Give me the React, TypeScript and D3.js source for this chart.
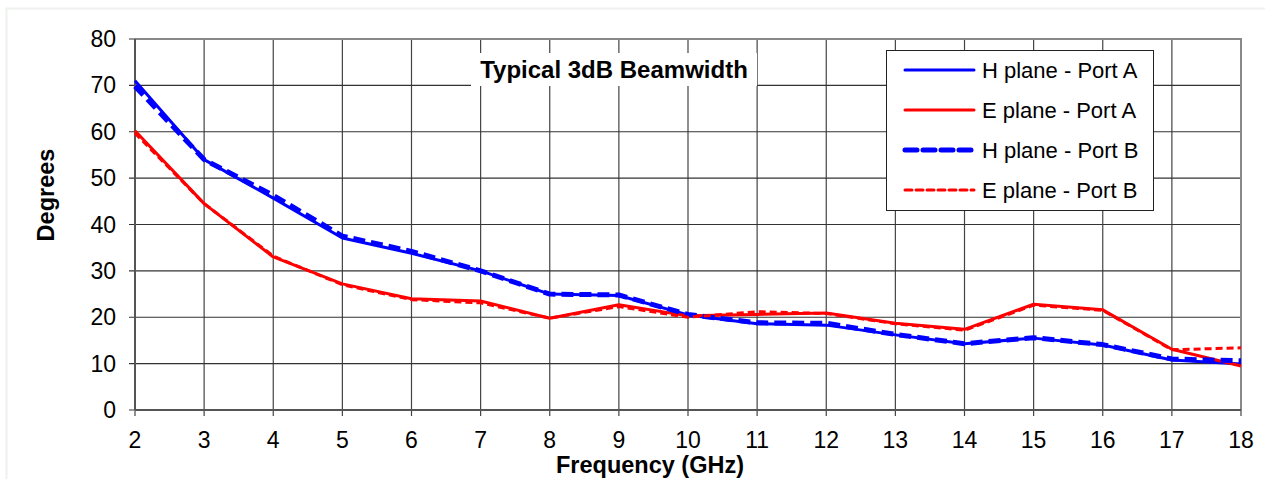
import React from "react";
import * as d3 from "d3";

const freqs = [2, 3, 4, 5, 6, 7, 8, 9, 10, 11, 12, 13, 14, 15, 16, 17, 18];
const hPortA = [71, 54, 45.7, 37.1, 33.8, 30, 25, 24.7, 20.5, 18.6, 18.3, 16.2, 14.3, 15.5, 14, 10.8, 9.9];
const ePortA = [60.2, 44.5, 33, 27.2, 24, 23.5, 19.8, 22.7, 20.3, 20.6, 20.9, 18.7, 17.4, 22.8, 21.6, 13.1, 9.5];
const hPortB = [69.8, 54, 46.3, 37.5, 34.2, 30, 25, 24.8, 20.6, 18.8, 18.7, 16.3, 14.3, 15.6, 14.1, 11, 10.6];
const ePortB = [59.7, 44.5, 33.2, 27, 23.8, 23.1, 19.8, 22.3, 20, 21.2, 20.8, 18.6, 17.2, 22.6, 21.5, 13, 13.4];
const yTicks = [0, 10, 20, 30, 40, 50, 60, 70, 80];

const series = [
  { name: "H plane - Port A", values: hPortA, color: "#0000ff", width: 3, dash: "" },
  { name: "E plane - Port A", values: ePortA, color: "#ff0000", width: 3, dash: "" },
  { name: "H plane - Port B", values: hPortB, color: "#0000ff", width: 5, dash: "12,6" },
  { name: "E plane - Port B", values: ePortB, color: "#ff0000", width: 3, dash: "7,4" },
];

const W = 1265;
const H = 479;
const margin = { left: 135, right: 24, top: 39, bottom: 69 };

export default function App() {
  const x = d3.scaleLinear().domain([2, 18]).range([margin.left, W - margin.right]);
  const y = d3.scaleLinear().domain([0, 80]).range([H - margin.bottom, margin.top]);
  const line = d3
    .line<number>()
    .x((_, i) => x(freqs[i]))
    .y((d) => y(d));

  const font = "'Liberation Sans', Arial, sans-serif";
  const legX = 886;
  const legY = 50;

  return (
    <div style={{ position: "absolute", left: 0, top: 0 }}>
      <svg width={W} height={H} style={{ display: "block", background: "#fff" }}>
        <rect x={6.5} y={8.5} width={W} height={H} fill="#fff" stroke="#eef1ee" strokeWidth={2} />
        {/* grid */}
        {freqs.map((f) => (
          <line key={"v" + f} x1={x(f)} x2={x(f)} y1={y(80)} y2={y(0) + 6} stroke="#444" strokeWidth={1.2} />
        ))}
        {yTicks.map((t) => (
          <line key={"h" + t} x1={x(2) - 6} x2={x(18)} y1={y(t)} y2={y(t)} stroke="#333" strokeWidth={1.2} />
        ))}
        {/* plot border */}
        <rect
          x={x(2)}
          y={y(80)}
          width={x(18) - x(2)}
          height={y(0) - y(80)}
          fill="none"
          stroke="#888"
          strokeWidth={2}
        />
        <line x1={x(2)} x2={x(18)} y1={y(0)} y2={y(0)} stroke="#555" strokeWidth={2} />
        <line x1={x(2)} x2={x(2)} y1={y(0)} y2={y(80)} stroke="#555" strokeWidth={2} />
        {/* title */}
        <rect x={471} y={53} width={286} height={33} fill="#fff" />
        <text x={614} y={78} textAnchor="middle" fontFamily={font} fontWeight="bold" fontSize={24}>
          Typical 3dB Beamwidth
        </text>
        {/* series */}
        {series.map((s) => (
          <path
            key={s.name}
            d={line(s.values) ?? ""}
            fill="none"
            stroke={s.color}
            strokeWidth={s.width}
            strokeDasharray={s.dash || undefined}
            strokeLinejoin="round"
          />
        ))}
        {/* tick labels */}
        {yTicks.map((t) => (
          <text key={"yl" + t} x={x(2) - 19} y={y(t) + 8} textAnchor="end" fontFamily={font} fontSize={23}>
            {t}
          </text>
        ))}
        {freqs.map((f) => (
          <text key={"xl" + f} x={x(f)} y={y(0) + 38} textAnchor="middle" fontFamily={font} fontSize={23}>
            {f}
          </text>
        ))}
        <text
          transform={`translate(54,195) rotate(-90)`}
          textAnchor="middle"
          fontFamily={font}
          fontWeight="bold"
          fontSize={23.5}
        >
          Degrees
        </text>
        <text x={650} y={473} textAnchor="middle" fontFamily={font} fontWeight="bold" fontSize={23.5}>
          Frequency (GHz)
        </text>
        {/* legend */}
        <rect x={legX + 0.5} y={legY + 0.5} width={267} height={160} fill="#fff" stroke="#222" strokeWidth={1} />
        {series.map((s, i) => {
          const ly = legY + 20 + i * 40;
          return (
            <g key={"lg" + s.name}>
              <line
                x1={legX + 19}
                x2={legX + 88}
                y1={ly}
                y2={ly}
                stroke={s.color}
                strokeWidth={s.width}
                strokeDasharray={s.dash || undefined}
                strokeLinecap="round"
              />
              <text x={legX + 96} y={ly + 7.5} fontFamily={font} fontSize={22}>
                {s.name}
              </text>
            </g>
          );
        })}
      </svg>
    </div>
  );
}
